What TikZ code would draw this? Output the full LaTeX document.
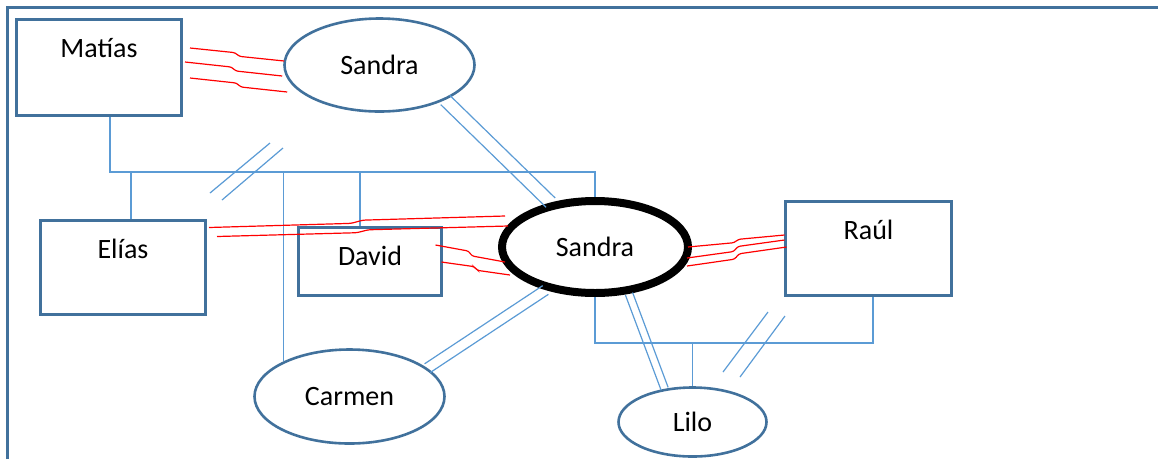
\documentclass[tikz,border=0pt]{standalone}
\usepackage{fontspec}
\setmainfont{Carlito}
\usepackage{tikz}
\usetikzlibrary{shapes.geometric, calc}

\definecolor{frameblue}{HTML}{41719C}
\definecolor{linkblue}{HTML}{5B9BD5}
\definecolor{bondred}{HTML}{FF0000}

\newcommand{\namefont}{\fontsize{28}{34}\selectfont}
% red tie with a small jog half way
\newcommand{\bondline}[2]{%
  \path (#1) -- (#2) coordinate[pos=.48] (t1) coordinate[pos=.36] (t2)
                     coordinate[pos=.52] (t3) coordinate[pos=.64] (t4);
  \draw[bond] (#1) -- (t1 |- t2) -- (t3 |- t4) -- (#2);}
% two parallel blue lines, half gap #3
\newcommand{\pairline}[3]{%
  \draw[link] ($(#1)!#3!90:(#2)$) -- ($(#2)!#3!-90:(#1)$);
  \draw[link] ($(#1)!#3!-90:(#2)$) -- ($(#2)!#3!90:(#1)$);}

\begin{document}
\begin{tikzpicture}[x=1pt, y=-1pt,
        person/.style={rectangle, draw=frameblue, line width=3pt, inner sep=0pt,
                       text height=38pt, font=\namefont},
        oval/.style={ellipse, draw=frameblue, line width=2.6pt, inner sep=0pt, font=\namefont},
        focus/.style={ellipse, draw=black, line width=8pt, inner sep=0pt, font=\namefont},
        link/.style={draw=linkblue, line width=1.2pt},
        bond/.style={draw=bondred, line width=1.2pt, rounded corners=2.5pt}
      ]
      \useasboundingbox (0,0) rectangle (1158,459);
      \draw[frameblue, line width=3pt] (7,459) -- (7,7) -- (1158,7);

      % --- People ---
      \node (matias) [person, minimum width=165pt, text depth=57.5pt] at (99,67.5) {Matías};
      \node (elias) [person, minimum width=165pt, text depth=56pt] at (123,267) {Elías};
      \node (david) [person, minimum width=143pt, text depth=30.5pt] at (370,261.5) {David};
      \node (raul) [person, minimum width=166pt, text depth=56.5pt] at (868.5,248.5) {Raúl};
      \node (sandratop) [oval, minimum width=190pt, minimum height=93pt] at (379.5,65) {Sandra};
      \node (sandra) [focus, minimum width=186pt, minimum height=92pt] at (595,247) {Sandra};
      \node (carmen) [oval, minimum width=190pt, minimum height=94pt] at (349.5,396.5) {Carmen};
      \node (lilo) [oval, minimum width=148pt, minimum height=69pt] at (692.5,422) {Lilo};

      % --- Family lines ---
      \coordinate (busL) at (110,172);
      \coordinate (busR) at (595,172);
      \coordinate (busE) at (131,172);
      \coordinate (busC) at (283.7,172);
      \coordinate (busD) at (360,172);
      \draw[link] (busL |- matias.south) -- (busL) -- (busR) -- (sandra.north);
      \draw[link] (busE) -- (busE |- elias.north);
      \draw[link] (busC) -- (busC |- carmen.152);
      \draw[link] (busD) -- (busD |- david.north);

      \coordinate (lowL) at (595,343);
      \coordinate (lowR) at (873,343);
      \draw[link] (sandra.south) -- (lowL) -- (lowR) -- (lowR |- raul.south);
      \draw[link] (lowL -| lilo.north) -- (lilo.north);

      % breaks
      \coordinate (splitTop) at (246,172);
      \draw[link] ([shift={(-36,21)}]splitTop) -- ([shift={(24,-29)}]splitTop);
      \draw[link] ([shift={(-24,28)}]splitTop) -- ([shift={(37,-24)}]splitTop);
      \coordinate (splitLow) at (755,343);
      \draw[link] ([shift={(-32,29)}]splitLow) -- ([shift={(13,-31)}]splitLow);
      \draw[link] ([shift={(-15,34)}]splitLow) -- ([shift={(30,-27)}]splitLow);

      % double lines
      \pairline{sandratop.-28}{sandra.135}{6.5pt}
      \pairline{carmen.20}{sandra.221}{5.2pt}
      \pairline{sandra.-54}{lilo.130}{3.8pt}

      % --- Red ties ---
      \bondline{[shift={(7,-19.5)}]matias.east}{[shift={(1,-4)}]sandratop.west}
      \bondline{[shift={(2,-5.5)}]matias.east}{[shift={(-1,11)}]sandratop.west}
      \bondline{[shift={(7,10.5)}]matias.east}{[shift={(4,27)}]sandratop.west}
      \bondline{[shift={(2,-39.5)}]elias.east}{[shift={(7,-31)}]sandra.west}
      \bondline{[shift={(10,-30.5)}]elias.east}{[shift={(10,-21)}]sandra.west}
      \bondline{[shift={(-7.5,-16.5)}]david.east}{[shift={(7,15)}]sandra.west}
      \bondline{[shift={(-1.5,0.5)}]david.east}{[shift={(12,28)}]sandra.west}
      \bondline{[shift={(-4,0)}]sandra.east}{[shift={(0.5,-13.5)}]raul.west}
      \bondline{[shift={(-5,11)}]sandra.east}{[shift={(0.5,-8.5)}]raul.west}
      \bondline{[shift={(-5,19)}]sandra.east}{[shift={(2.5,-1.5)}]raul.west}

    \end{tikzpicture}
\end{document}
